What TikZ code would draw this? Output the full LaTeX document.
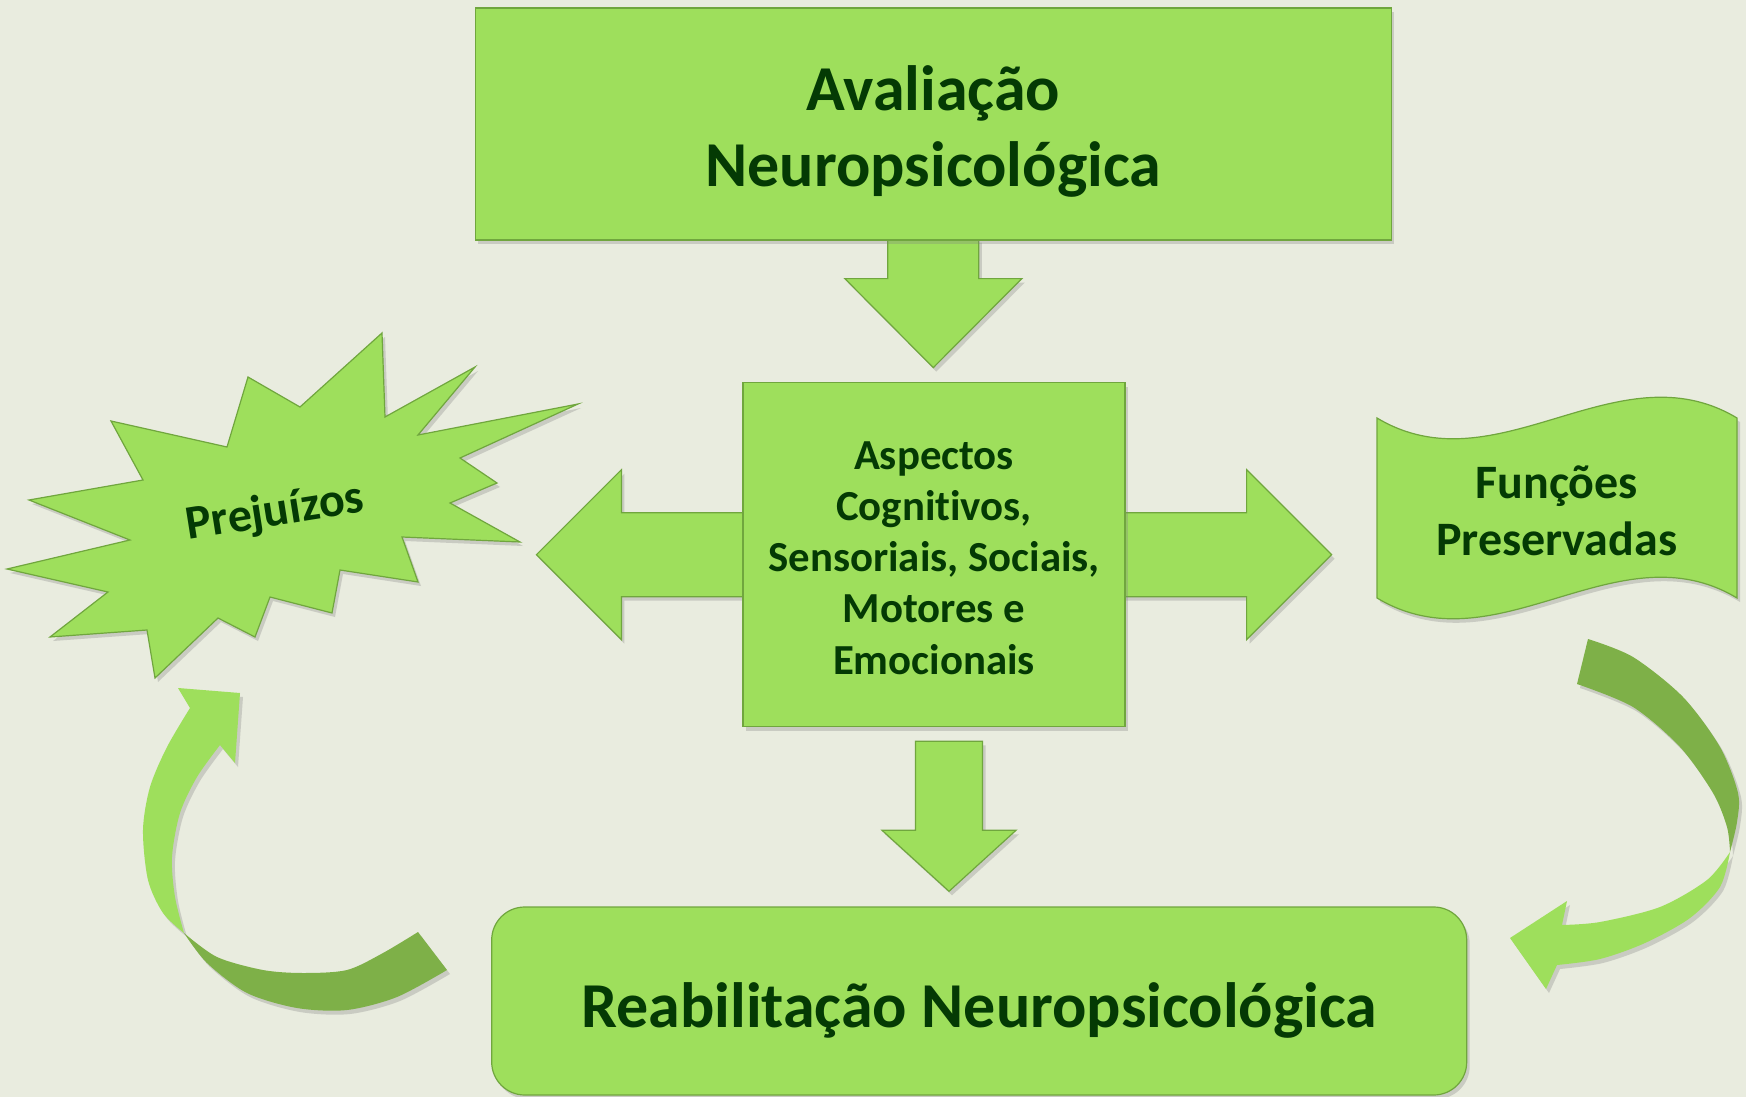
\documentclass[tikz,border=0pt]{standalone}
\usepackage{fontspec}
\setmainfont{Carlito}[Ligatures=NoCommon]
\usetikzlibrary{shadows, calc}
\definecolor{corfundo}{RGB}{233,236,223}
\definecolor{verdeclaro}{RGB}{158,223,92}
\definecolor{verdeborda}{RGB}{112,166,62}
\definecolor{verdeescuro}{RGB}{126,176,72}
\definecolor{verdetexto}{RGB}{4,58,4}
\pgfdeclarelayer{fundo}
\pgfdeclarelayer{setas}
\pgfsetlayers{fundo,setas,main}

\begin{document}
\begin{tikzpicture}[x=1pt, y=-1pt,
    sombra/.style={drop shadow={shadow xshift=3pt, shadow yshift=-4pt, opacity=0.3}},
    caixa/.style={rectangle, fill=verdeclaro, draw=verdeborda, line width=1.2pt, sombra},
    bloco/.style={fill=verdeclaro, draw=verdeborda, line width=1.2pt, line join=miter, sombra},
    rotulo/.style={text=verdetexto, align=center, inner sep=0pt},
    fita/.style={fill=verdeclaro, sombra},
    fitaescura/.style={fill=verdeescuro, sombra}]

    % fundo
    \begin{pgfonlayer}{fundo}
        \fill[corfundo] (0,0) rectangle (1746,1097);
    \end{pgfonlayer}
    \useasboundingbox (0,0) rectangle (1746,1097);

    % caixas
    \node[caixa, minimum width=916pt, minimum height=232pt] (aval) at (933.3,124) {};
    \node[caixa, minimum width=382pt, minimum height=344pt] (aspec) at (934,554.7) {};
    \node[caixa, rounded corners=33pt, minimum width=975pt, minimum height=188pt] (reab) at (979.2,1001) {};

    \node[rotulo, font=\fontsize{64pt}{76pt}\selectfont\bfseries] (avaltxt) at ($(aval)+(0,7.5)$) {Avaliação\\Neuropsicológica};
    \node[rotulo, font=\fontsize{42.8pt}{51.25pt}\selectfont\bfseries] (aspectxt) at ($(aspec)+(0,3.3)$)
        {Aspectos\\Cognitivos,\\Sensoriais, Sociais,\\Motores e\\Emocionais};
    \node[rotulo, font=\fontsize{64pt}{76pt}\selectfont\bfseries] (reabtxt) at ($(reab)+(0,9)$) {Reabilitação Neuropsicológica};

    % setas em bloco
    \begin{pgfonlayer}{setas}
        \begin{scope}[shift={(aval.south)}]
            \filldraw[bloco] (-45.5,-2) -- (45.5,-2) -- (45.5,38) -- (88.5,38) -- (0,127) -- (-88.5,38) -- (-45.5,38) -- cycle;
        \end{scope}
        \begin{scope}[shift={(aspec.west)}]
            \filldraw[bloco] (15,-42) -- (-121,-42) -- (-121,-85) -- (-206,0) -- (-121,85) -- (-121,42) -- (15,42) -- cycle;
        \end{scope}
        \begin{scope}[shift={(aspec.east)}]
            \filldraw[bloco] (-15,-42) -- (121,-42) -- (121,-85) -- (206,0) -- (121,85) -- (121,42) -- (-15,42) -- cycle;
        \end{scope}
        \begin{scope}[shift={($(aspec.south)+(15,0)$)}]
            \filldraw[bloco] (-33.5,14) -- (33.5,14) -- (33.5,103) -- (67,103) -- (0,164) -- (-67,103) -- (-33.5,103) -- cycle;
        \end{scope}
    \end{pgfonlayer}

    % explosão (prejuízos)
    \filldraw[bloco] (382,333) -- (385,417) -- (475,367) -- (418,435) -- (578,404) -- (460,458) -- (497,483)
        -- (450,503) -- (520,542) -- (402,537) -- (418,582) -- (340,570) -- (332,613) -- (270,597)
        -- (255,637) -- (218,618) -- (155,678) -- (147,630) -- (50,637) -- (108,592) -- (7,569)
        -- (130,540) -- (29,500) -- (143,480) -- (111,421) -- (227,447) -- (248,377) -- (300,407) -- cycle;
    \node[rotulo, rotate=9, font=\fontsize{48pt}{56pt}\selectfont\bfseries] (prej) at (275,513) {Prejuízos};

    % onda (funções preservadas)
    \filldraw[bloco] (1377,418) .. controls (1497,490) and (1617,346) .. (1737,418)
        -- (1737,598) .. controls (1617,526) and (1497,670) .. (1377,598) -- cycle;
    \node[rotulo, font=\fontsize{48pt}{57pt}\selectfont\bfseries] (func) at (1556.7,511.3) {Funções\\Preservadas};

    % seta curva: reabilitação -> prejuízos
    \fill[fita] (240,693) -- (178,688)
        -- plot[smooth] coordinates {(190,708) (167,747) (150,787) (143,830) (148,880) (163,913) (184,933)}
        -- plot[smooth] coordinates {(184,933) (175,897) (172,857) (180,813) (197,777) (220,745)}
        -- (235,763) -- cycle;
    \fill[fitaescura] plot[smooth] coordinates {(184,933) (207,963) (247,993) (297,1008) (347,1010) (397,997) (447,970)}
        -- (418,932)
        -- plot[smooth] coordinates {(418,932) (383,953) (347,970) (303,973) (263,970) (217,957) (184,933)} -- cycle;

    % seta curva: funções preservadas -> reabilitação
    \fill[fitaescura] plot[smooth] coordinates {(1588,639) (1633,657) (1683,697) (1720,747) (1738,793) (1737,822) (1730,852)}
        -- plot[smooth] coordinates {(1730,852) (1727,827) (1713,793) (1680,747) (1633,707) (1577,684)} -- cycle;
    \fill[fita] plot[smooth] coordinates {(1730,852) (1707,880) (1660,907) (1600,922) (1562,925)}
        -- (1567,901) -- (1510,938) -- (1546,989)
        -- plot[smooth] coordinates {(1557,965) (1600,959) (1645,943) (1690,918) (1720,887) (1730,852)} -- cycle;

\end{tikzpicture}
\end{document}
